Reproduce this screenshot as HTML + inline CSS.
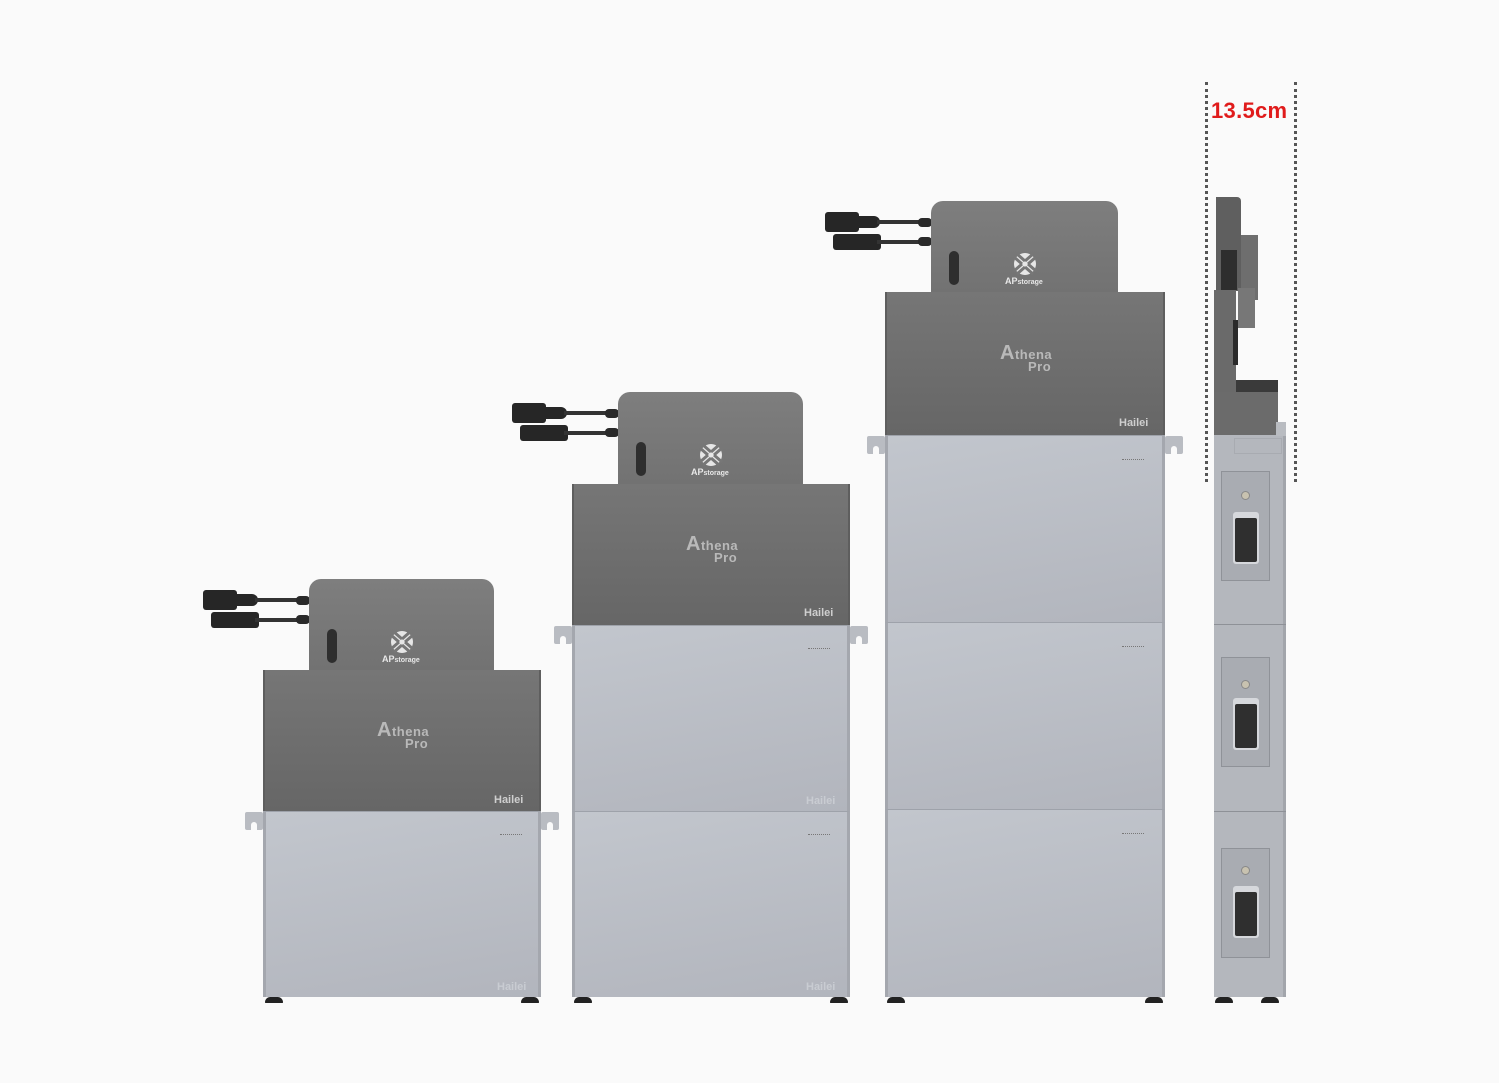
<!DOCTYPE html>
<html><head><meta charset="utf-8"><style>
html,body{margin:0;padding:0}
body{width:1499px;height:1083px;background:#fafafa;position:relative;overflow:hidden;font-family:"Liberation Sans",sans-serif}
div{position:absolute;box-sizing:border-box}
.top{background:linear-gradient(180deg,#7e7e7e,#727272);border-radius:12px 12px 0 0}
.body{background:linear-gradient(180deg,#767676,#666);border-left:2px solid #5e5e5e;border-right:2px solid #5e5e5e}
.bat{background:linear-gradient(170deg,#c2c6cd,#b2b5bd);border-left:3px solid #a4a7ae;border-right:3px solid #a4a7ae;border-top:1px solid #9ea2aa}
.brk{width:18px;height:18px;background:#b9bcc2;border-radius:2px}
.brk:after{content:"";position:absolute;left:6px;bottom:0;width:6px;height:8px;background:#fafafa;border-radius:3px 3px 0 0}
.foot{width:18px;height:6px;background:#222;border-radius:8px 8px 1px 1px}
.slot{width:10px;height:34px;background:#2e2e2e;border-radius:5px}
.ap{color:#e8e8e8;font-size:9px;font-weight:bold;white-space:nowrap}
.ap small{font-size:7px;font-weight:bold}
.ath{color:#b9b9b9;font-weight:bold;font-size:13px;line-height:12px;letter-spacing:.5px}
.ath b{font-size:20px}
.hl{color:#cfcfcf;font-weight:bold;font-size:11px}
.hlb{color:#c9ccd2;font-weight:bold;font-size:11px}
.cab{height:4px;background:#333}
.con{background:#262626;border-radius:3px}
.gl{width:14px;height:9px;background:#2a2a2a;border-radius:4px}
.led{width:22px;height:2px;border-top:1px dotted #777}
</style></head><body>

<!-- ===== UNIT 1 ===== -->
<div class="con" style="left:203px;top:590px;width:34px;height:20px"></div>
<div class="con" style="left:232px;top:594px;width:26px;height:12px;border-radius:0 6px 6px 0"></div>
<div class="cab" style="left:255px;top:598px;width:50px"></div>
<div class="gl" style="left:296px;top:596px"></div>
<div class="con" style="left:211px;top:612px;width:48px;height:16px"></div>
<div class="cab" style="left:255px;top:618px;width:50px"></div>
<div class="gl" style="left:296px;top:615px"></div>
<div class="top" style="left:309px;top:579px;width:185px;height:92px"></div>
<div class="slot" style="left:327px;top:629px"></div>
<svg style="position:absolute;left:390px;top:630px" width="24" height="24" viewBox="0 0 24 24"><circle cx="12" cy="12" r="11" fill="#e6e6e6"/><path d="M12 9 L4 2 M12 9 L20 2 M12 15 L4 22 M12 15 L20 22 M9 12 L1 5 M9 12 L1 19 M15 12 L23 5 M15 12 L23 19" stroke="#777" stroke-width="3"/></svg>
<div class="ap" style="left:382px;top:654px">AP<small>storage</small></div>
<div class="body" style="left:263px;top:670px;width:278px;height:142px"></div>
<div class="ath" style="left:377px;top:724px"><b>A</b>thena<br><span style="margin-left:28px">Pro</span></div>
<div class="hl" style="left:494px;top:794px">Hailei</div>
<div class="brk" style="left:245px;top:812px"></div><div class="brk" style="left:541px;top:812px"></div>
<div class="bat" style="left:263px;top:811px;width:278px;height:186px"></div>
<div class="led" style="left:500px;top:834px"></div>
<div class="hlb" style="left:497px;top:981px">Hailei</div>
<div class="foot" style="left:265px;top:997px"></div><div class="foot" style="left:521px;top:997px"></div>

<!-- ===== UNIT 2 ===== -->
<div class="con" style="left:512px;top:403px;width:34px;height:20px"></div>
<div class="con" style="left:541px;top:407px;width:26px;height:12px;border-radius:0 6px 6px 0"></div>
<div class="cab" style="left:564px;top:411px;width:50px"></div>
<div class="gl" style="left:605px;top:409px"></div>
<div class="con" style="left:520px;top:425px;width:48px;height:16px"></div>
<div class="cab" style="left:564px;top:431px;width:50px"></div>
<div class="gl" style="left:605px;top:428px"></div>
<div class="top" style="left:618px;top:392px;width:185px;height:93px"></div>
<div class="slot" style="left:636px;top:442px"></div>
<svg style="position:absolute;left:699px;top:443px" width="24" height="24" viewBox="0 0 24 24"><circle cx="12" cy="12" r="11" fill="#e6e6e6"/><path d="M12 9 L4 2 M12 9 L20 2 M12 15 L4 22 M12 15 L20 22 M9 12 L1 5 M9 12 L1 19 M15 12 L23 5 M15 12 L23 19" stroke="#777" stroke-width="3"/></svg>
<div class="ap" style="left:691px;top:467px">AP<small>storage</small></div>
<div class="body" style="left:572px;top:484px;width:278px;height:142px"></div>
<div class="ath" style="left:686px;top:538px"><b>A</b>thena<br><span style="margin-left:28px">Pro</span></div>
<div class="hl" style="left:804px;top:607px">Hailei</div>
<div class="brk" style="left:554px;top:626px"></div><div class="brk" style="left:850px;top:626px"></div>
<div class="bat" style="left:572px;top:625px;width:278px;height:186px"></div>
<div class="bat" style="left:572px;top:811px;width:278px;height:186px"></div>
<div class="led" style="left:808px;top:648px"></div>
<div class="led" style="left:808px;top:834px"></div>
<div class="hlb" style="left:806px;top:795px">Hailei</div>
<div class="hlb" style="left:806px;top:981px">Hailei</div>
<div class="foot" style="left:574px;top:997px"></div><div class="foot" style="left:830px;top:997px"></div>

<!-- ===== UNIT 3 ===== -->
<div class="con" style="left:825px;top:212px;width:34px;height:20px"></div>
<div class="con" style="left:854px;top:216px;width:26px;height:12px;border-radius:0 6px 6px 0"></div>
<div class="cab" style="left:877px;top:220px;width:50px"></div>
<div class="gl" style="left:918px;top:218px"></div>
<div class="con" style="left:833px;top:234px;width:48px;height:16px"></div>
<div class="cab" style="left:877px;top:240px;width:50px"></div>
<div class="gl" style="left:918px;top:237px"></div>
<div class="top" style="left:931px;top:201px;width:187px;height:92px"></div>
<div class="slot" style="left:949px;top:251px"></div>
<svg style="position:absolute;left:1013px;top:252px" width="24" height="24" viewBox="0 0 24 24"><circle cx="12" cy="12" r="11" fill="#e6e6e6"/><path d="M12 9 L4 2 M12 9 L20 2 M12 15 L4 22 M12 15 L20 22 M9 12 L1 5 M9 12 L1 19 M15 12 L23 5 M15 12 L23 19" stroke="#777" stroke-width="3"/></svg>
<div class="ap" style="left:1005px;top:276px">AP<small>storage</small></div>
<div class="body" style="left:885px;top:292px;width:280px;height:144px"></div>
<div class="ath" style="left:1000px;top:347px"><b>A</b>thena<br><span style="margin-left:28px">Pro</span></div>
<div class="hl" style="left:1119px;top:417px">Hailei</div>
<div class="brk" style="left:867px;top:436px"></div><div class="brk" style="left:1165px;top:436px"></div>
<div class="bat" style="left:885px;top:435px;width:280px;height:187px"></div>
<div class="bat" style="left:885px;top:622px;width:280px;height:187px"></div>
<div class="bat" style="left:885px;top:809px;width:280px;height:188px"></div>
<div class="led" style="left:1122px;top:459px"></div>
<div class="led" style="left:1122px;top:646px"></div>
<div class="led" style="left:1122px;top:833px"></div>
<div class="foot" style="left:887px;top:997px"></div><div class="foot" style="left:1145px;top:997px"></div>

<!-- ===== SIDE VIEW ===== -->
<div style="left:1216px;top:197px;width:25px;height:94px;background:#5f5f5f;border-radius:0 4px 0 0"></div>
<div style="left:1221px;top:250px;width:16px;height:40px;background:#2e2e2e"></div>
<div style="left:1241px;top:235px;width:17px;height:65px;background:#6e6e6e"></div>
<div style="left:1238px;top:288px;width:17px;height:40px;background:#777"></div>
<div style="left:1214px;top:290px;width:22px;height:145px;background:#6a6a6a"></div>
<div style="left:1233px;top:320px;width:5px;height:45px;background:#2a2a2a"></div>
<div style="left:1236px;top:380px;width:42px;height:12px;background:#3a3a3a"></div>
<div style="left:1214px;top:392px;width:64px;height:43px;background:#6b6b6b"></div>
<div style="left:1214px;top:435px;width:72px;height:562px;background:#b4b7bd;border-right:3px solid #a2a5ab"></div>
<div style="left:1276px;top:422px;width:10px;height:14px;background:#b9bcc1"></div>
<div style="left:1234px;top:438px;width:48px;height:16px;border:1px solid #a8abb1"></div>
<div style="left:1214px;top:624px;width:72px;height:1px;background:#8e9197"></div>
<div style="left:1214px;top:811px;width:72px;height:1px;background:#8e9197"></div>
<div style="left:1221px;top:471px;width:49px;height:110px;background:#a9acb2;border:1px solid #8f9298"></div>
<div style="left:1221px;top:657px;width:49px;height:110px;background:#a9acb2;border:1px solid #8f9298"></div>
<div style="left:1221px;top:848px;width:49px;height:110px;background:#a9acb2;border:1px solid #8f9298"></div>
<div style="left:1233px;top:512px;width:26px;height:52px;background:#d6d8dc;border-radius:3px"></div>
<div style="left:1235px;top:518px;width:22px;height:44px;background:#2f2f2f;border-radius:2px"></div>
<div style="left:1233px;top:698px;width:26px;height:52px;background:#d6d8dc;border-radius:3px"></div>
<div style="left:1235px;top:704px;width:22px;height:44px;background:#2f2f2f;border-radius:2px"></div>
<div style="left:1233px;top:886px;width:26px;height:52px;background:#d6d8dc;border-radius:3px"></div>
<div style="left:1235px;top:892px;width:22px;height:44px;background:#2f2f2f;border-radius:2px"></div>
<div style="left:1241px;top:491px;width:9px;height:9px;border-radius:50%;background:#c8c2b0;border:1px solid #888"></div>
<div style="left:1241px;top:680px;width:9px;height:9px;border-radius:50%;background:#c8c2b0;border:1px solid #888"></div>
<div style="left:1241px;top:866px;width:9px;height:9px;border-radius:50%;background:#c8c2b0;border:1px solid #888"></div>
<div class="foot" style="left:1215px;top:997px"></div><div class="foot" style="left:1261px;top:997px"></div>

<!-- dimension -->
<div style="left:1205px;top:82px;width:0;height:400px;border-left:3px dotted #555"></div>
<div style="left:1294px;top:82px;width:0;height:400px;border-left:3px dotted #555"></div>
<div style="left:1211px;top:98px;color:#e01b1b;font-weight:bold;font-size:22px;letter-spacing:.3px">13.5cm</div>
</body></html>
